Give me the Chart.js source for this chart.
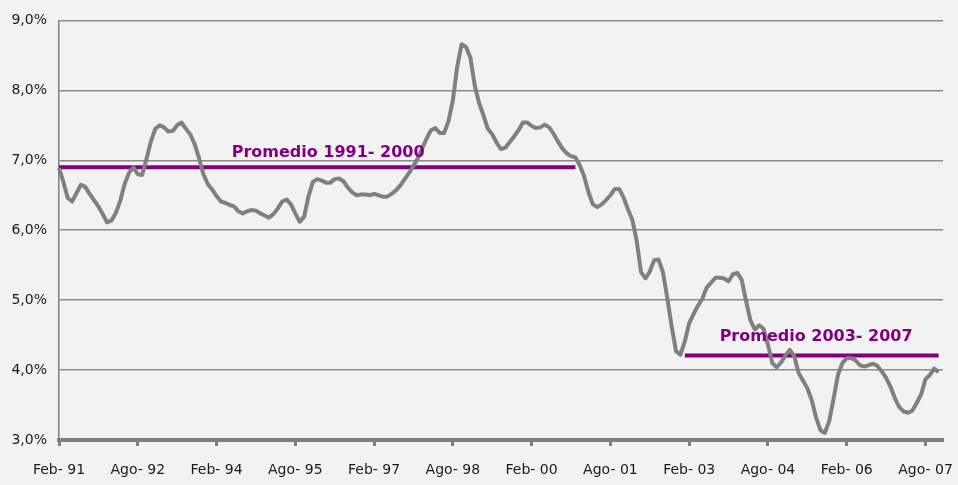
<!DOCTYPE html>
<html>
<head>
<meta charset="utf-8">
<script src="https://cdn.jsdelivr.net/npm/chart.js@4"></script>
<style>
  html, body { margin: 0; padding: 0; background: #f2f2f2; }
  #wrap { width: 958px; height: 485px; }
</style>
</head>
<body>
<div id="wrap"><canvas id="rateChart"></canvas></div>
<script>
// meses (Feb-91 .. Dic-07)
const monthNames = ['Ene', 'Feb', 'Mar', 'Abr', 'May', 'Jun', 'Jul', 'Ago', 'Sep', 'Oct', 'Nov', 'Dic'];
const startYear = 1991, startMonth = 1, monthCount = 203;

const tickLabels = ['Feb- 91', 'Ago- 92', 'Feb- 94', 'Ago- 95', 'Feb- 97', 'Ago- 98',
                    'Feb- 00', 'Ago- 01', 'Feb- 03', 'Ago- 04', 'Feb- 06', 'Ago- 07'];
const yTicks = ['3,0%', '4,0%', '5,0%', '6,0%', '7,0%', '8,0%', '9,0%'];

// tasa mensual (%)
const rates = [6.89,6.69,6.46,6.41,6.53,6.65,6.62,6.52,6.43,6.34,
  6.23,6.11,6.14,6.25,6.42,6.66,6.82,6.90,6.80,6.79,
  7.02,7.27,7.45,7.50,7.47,7.41,7.42,7.50,7.54,7.45,
  7.37,7.23,7.03,6.80,6.66,6.58,6.49,6.41,6.39,6.36,
  6.34,6.27,6.24,6.27,6.29,6.28,6.24,6.21,6.18,6.23,
  6.31,6.41,6.44,6.37,6.24,6.12,6.19,6.48,6.69,6.73,
  6.71,6.68,6.68,6.73,6.74,6.70,6.61,6.54,6.50,6.51,
  6.51,6.50,6.52,6.50,6.48,6.48,6.52,6.57,6.64,6.73,
  6.82,6.92,7.03,7.17,7.31,7.43,7.46,7.39,7.39,7.56,
  7.86,8.34,8.66,8.62,8.47,8.07,7.82,7.64,7.45,7.37,
  7.25,7.16,7.18,7.26,7.34,7.43,7.54,7.54,7.49,7.46,
  7.47,7.51,7.47,7.38,7.27,7.17,7.10,7.06,7.04,6.93,
  6.77,6.54,6.37,6.33,6.37,6.43,6.50,6.59,6.59,6.47,
  6.30,6.15,5.85,5.40,5.31,5.41,5.57,5.58,5.40,5.03,
  4.62,4.27,4.22,4.41,4.67,4.80,4.92,5.02,5.18,5.25,
  5.32,5.32,5.31,5.27,5.37,5.39,5.29,4.99,4.71,4.58,
  4.64,4.59,4.36,4.10,4.04,4.11,4.21,4.29,4.20,3.96,
  3.85,3.74,3.57,3.32,3.14,3.10,3.27,3.59,3.93,4.10,
  4.17,4.17,4.14,4.07,4.05,4.07,4.09,4.06,3.98,3.89,
  3.76,3.60,3.47,3.41,3.39,3.42,3.53,3.65,3.87,3.93,
  4.02,3.97];

// promedios: [valor, indice inicio, indice fin]
const avg1 = [6.90, 0, 118];
const avg2 = [4.21, 143, 201];
const avgLabels = ['Promedio 1991- 2000', 'Promedio 2003- 2007'];
const avgLabelPos = [[61.5, 7.10], [173, 4.47]];

const labels = [];
for (let i = 0; i < monthCount; i++) {
    const m = (startMonth + i) % 12;
    const y = startYear + Math.floor((startMonth + i) / 12);
    labels.push(monthNames[m] + '- ' + String(y).slice(2));
}

function avgSeries(a) {
    return labels.map((_, i) => (i >= a[1] && i <= a[2]) ? a[0] : null);
}

const purple = '#800080';

const avgTextPlugin = {
    id: 'avgText',
    afterDatasetsDraw(chart) {
        const ctx = chart.ctx;
        const xs = chart.scales.x, ys = chart.scales.y;
        ctx.save();
        ctx.font = 'bold 16px "DejaVu Sans"';
        ctx.fillStyle = purple;
        ctx.textAlign = 'center';
        ctx.textBaseline = 'middle';
        avgLabels.forEach((t, k) => {
            ctx.fillText(t, xs.getPixelForValue(avgLabelPos[k][0]), ys.getPixelForValue(avgLabelPos[k][1]));
        });
        ctx.restore();
    }
};

const ctx = document.getElementById('rateChart').getContext('2d');
new Chart(ctx, {
    type: 'line',
    data: {
        labels: labels,
        datasets: [{
            data: rates,
            borderColor: '#808080',
            borderWidth: 4,
            pointRadius: 0,
            tension: 0,
            borderJoinStyle: 'round'
        }, {
            data: avgSeries(avg1),
            borderColor: purple,
            borderWidth: 4,
            pointRadius: 0
        }, {
            data: avgSeries(avg2),
            borderColor: purple,
            borderWidth: 4,
            pointRadius: 0
        }]
    },
    options: {
        responsive: true,
        maintainAspectRatio: false,
        animation: false,
        layout: { padding: { top: 18, right: 15, left: 0, bottom: 0 } },
        plugins: {
            legend: { display: false },
            tooltip: { enabled: false }
        },
        scales: {
            x: {
                offset: false,
                border: { color: '#808080', width: 4 },
                grid: {
                    drawOnChartArea: false,
                    drawTicks: true,
                    tickLength: 6,
                    tickWidth: 3,
                    tickColor: '#808080'
                },
                ticks: {
                    autoSkip: false,
                    maxRotation: 0,
                    padding: 16,
                    color: '#1a1a1a',
                    font: { family: '"DejaVu Sans"', size: 14 },
                    callback: function(value, index) {
                        return index % 18 === 0 ? tickLabels[index / 18] : null;
                    }
                },
                afterFit: function(scale) {
                    scale.height = 45;
                    scale.paddingLeft = 0;
                    scale.paddingRight = 0;
                }
            },
            y: {
                min: 3,
                max: 9,
                border: { color: '#808080', width: 1.5 },
                grid: {
                    color: '#8a8a8a',
                    lineWidth: 1.5,
                    drawTicks: false
                },
                ticks: {
                    stepSize: 1,
                    padding: 12,
                    color: '#1a1a1a',
                    font: { family: '"DejaVu Sans"', size: 14 },
                    callback: function(value) {
                        return yTicks[Math.round(value) - 3];
                    }
                },
                afterFit: function(scale) { scale.width = 59; }
            }
        }
    },
    plugins: [avgTextPlugin]
});
</script>
</body>
</html>
